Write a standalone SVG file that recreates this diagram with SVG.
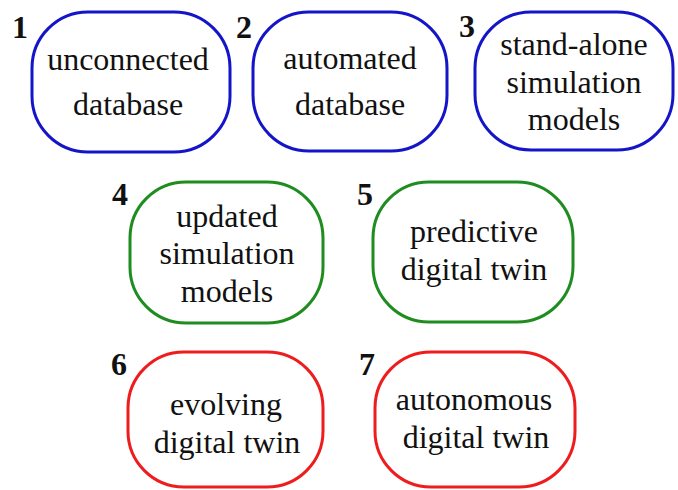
<svg xmlns="http://www.w3.org/2000/svg" width="678" height="490" viewBox="0 0 678 490">
<style>
  .box{fill:#fff;stroke-width:3}
  .blue{stroke:#1414c8}
  .green{stroke:#1e8c1e}
  .red{stroke:#ee1c1c}
  .t{font-family:"Liberation Serif","Times New Roman",serif;font-size:32px;fill:#111;text-anchor:middle}
  .n{font-family:"Liberation Serif","Times New Roman",serif;font-size:32px;font-weight:bold;fill:#111}
</style>
<rect width="678" height="490" fill="#fff"/>
<g id="connectors"/>
<g id="node1">
  <rect class="box blue" x="32" y="12" width="198" height="140" rx="56" ry="56"/>
  <text class="n" x="12" y="38">1</text>
  <text class="t" x="128" y="70">unconnected</text>
  <text class="t" x="128" y="115">database</text>
</g>
<g id="node2">
  <rect class="box blue" x="253" y="12" width="194" height="139" rx="56" ry="56"/>
  <text class="n" x="236" y="38">2</text>
  <text class="t" x="350" y="69">automated</text>
  <text class="t" x="350" y="115">database</text>
</g>
<g id="node3">
  <rect class="box blue" x="475" y="12" width="198" height="138" rx="56" ry="56"/>
  <text class="n" x="459" y="37">3</text>
  <text class="t" x="574" y="55">stand-alone</text>
  <text class="t" x="574" y="93">simulation</text>
  <text class="t" x="574" y="130">models</text>
</g>
<g id="node4">
  <rect class="box green" x="130" y="182" width="193" height="141" rx="56" ry="56"/>
  <text class="n" x="112" y="205">4</text>
  <text class="t" x="227" y="227">updated</text>
  <text class="t" x="227" y="264">simulation</text>
  <text class="t" x="227" y="302">models</text>
</g>
<g id="node5">
  <rect class="box green" x="373" y="182" width="200" height="140" rx="56" ry="56"/>
  <text class="n" x="357" y="205">5</text>
  <text class="t" x="474" y="242">predictive</text>
  <text class="t" x="474" y="280">digital twin</text>
</g>
<g id="node6">
  <rect class="box red" x="128" y="352" width="195" height="135" rx="56" ry="56"/>
  <text class="n" x="111" y="375">6</text>
  <text class="t" x="226" y="415">evolving</text>
  <text class="t" x="227" y="453">digital twin</text>
</g>
<g id="node7">
  <rect class="box red" x="375" y="352" width="200" height="135" rx="56" ry="56"/>
  <text class="n" x="359" y="375">7</text>
  <text class="t" x="474" y="410">autonomous</text>
  <text class="t" x="476" y="448">digital twin</text>
</g>
</svg>
